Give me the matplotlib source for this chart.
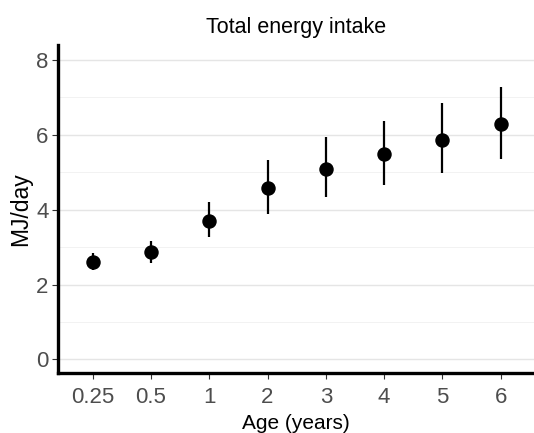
import numpy as np
import matplotlib
matplotlib.use("Agg")
import matplotlib.pyplot as plt
from matplotlib.ticker import MultipleLocator

plt.rcParams['font.family'] = ['Liberation Sans', 'DejaVu Sans']

# data
ages = ["0.25", "0.5", "1", "2", "3", "4", "5", "6"]
mean = [2.61, 2.86, 3.71, 4.57, 5.08, 5.48, 5.87, 6.28]
lower = [2.39, 2.58, 3.28, 3.89, 4.35, 4.65, 4.99, 5.35]
upper = [2.83, 3.17, 4.21, 5.33, 5.94, 6.38, 6.84, 7.29]

fig = plt.figure(figsize=(5.34, 4.33), dpi=100)
ax = fig.add_axes([0.109, 0.138, 0.891, 0.758])

x = np.arange(1, len(ages) + 1)
err = [np.array(mean) - np.array(lower), np.array(upper) - np.array(mean)]
ax.errorbar(x, mean, yerr=err, fmt="o", color="black", ms=9.4,
            elinewidth=1.6, capsize=0, zorder=3)

ax.set_xlim(0.41, 8.57)
ax.set_ylim(-0.37, 8.4)
ax.set_xticks(x)
ax.set_xticklabels(ages)
ax.yaxis.set_major_locator(MultipleLocator(2))
ax.yaxis.set_minor_locator(MultipleLocator(1))

ax.grid(axis="y", which="major", color="#E5E5E5", lw=1.0, zorder=0)
ax.grid(axis="y", which="minor", color="#F0F0F0", lw=0.6, zorder=0)
ax.set_axisbelow(True)

for s in ["top", "right"]:
    ax.spines[s].set_visible(False)
for s in ["left", "bottom"]:
    ax.spines[s].set_linewidth(2.4)
    ax.spines[s].set_color("black")

ax.tick_params(axis="both", which="major", direction="out", length=4,
               width=0.8, color="#333333", labelcolor="#4D4D4D", labelsize=16)
ax.tick_params(axis="x", which="major", pad=6)
ax.tick_params(axis="y", which="major", pad=3)
ax.tick_params(axis="y", which="minor", length=0)

ax.set_xlabel("Age (years)", fontsize=15, labelpad=4)
ax.set_ylabel("MJ/day", fontsize=16.5, labelpad=3)
ax.set_title("Total energy intake", fontsize=15.5, pad=9)

fig.savefig("out.png", dpi=100)
